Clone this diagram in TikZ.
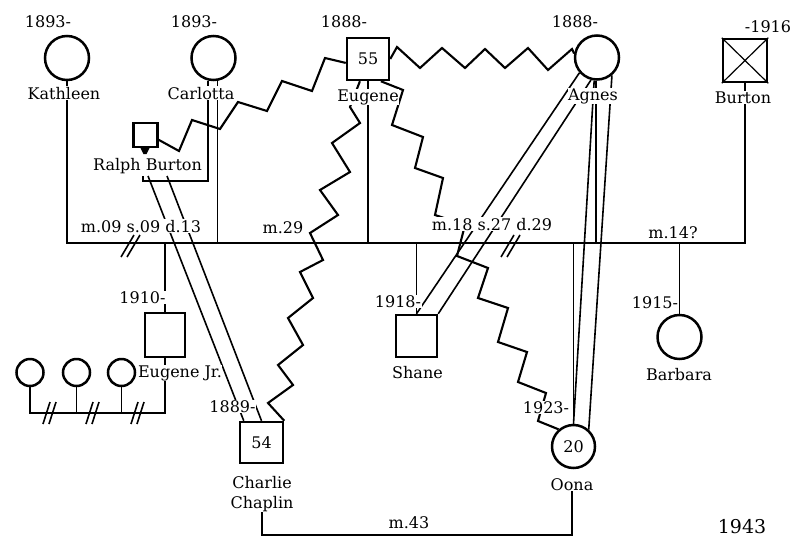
\documentclass[tikz,border=0pt]{standalone}
\usepackage{fontspec}
\setmainfont{DejaVu Serif}
\usetikzlibrary{calc}
\pgfdeclarelayer{bg}
\pgfsetlayers{bg,main}
\begin{document}
\begin{tikzpicture}[x=1pt,y=-1pt,
  fem/.style={circle,draw,fill=white,line width=2.5pt,minimum size=44pt,inner sep=0pt,font=\fontsize{16}{19}\selectfont},
  mal/.style={rectangle,draw,fill=white,line width=2.5pt,inner sep=0pt,font=\fontsize{16}{19}\selectfont},
  lbl/.style={font=\fontsize{16}{19}\selectfont,fill=white,inner sep=0.5pt,anchor=base},
  rel/.style={line width=1.6pt},
  zz/.style={line width=2.1pt,line join=miter},
  divmark/.pic={\draw[line width=1.6pt] (-10,11)--(3,-11) (-4,11)--(9,-11);},
  smalldiv/.pic={\draw[line width=1.6pt] (-7,11)--(0,-11) (-1,11)--(6,-11);}
]
\useasboundingbox (0,0) rectangle (791,538);
% persons
\node[fem] (kath) at (67,58) {};
\node[fem] (carl) at (213.5,58) {};
\node[mal,minimum width=42pt,minimum height=42pt] (eug) at (368,59) {55};
\node[fem] (agn) at (597,57.5) {};
\node[mal,minimum width=44pt,minimum height=43pt] (burt) at (745,60.5) {};
\draw[line width=1.2pt] (burt.north west) -- (burt.south east) (burt.north east) -- (burt.south west);
\node[mal,minimum size=24pt,line width=2.2pt] (ralph) at (145.5,135) {};
\fill (ralph.south) ++(-5,0) -- ++(9,0) -- ++(-3,6) -- ++(-3,0) -- cycle;
\node[mal,minimum width=40pt,minimum height=44pt] (eugjr) at (165,335) {};
\node[mal,minimum width=41pt,minimum height=42pt] (shane) at (416.5,336) {};
\node[fem] (barb) at (679.5,337) {};
\node[mal,minimum width=43pt,minimum height=41pt] (charlie) at (261.5,442.5) {54};
\node[fem,minimum size=43pt] (oona) at (573.5,446.5) {20};
\node[fem,minimum size=27pt] (g1) at (30,372.5) {};
\node[fem,minimum size=27pt] (g2) at (76.5,372.5) {};
\node[fem,minimum size=27pt] (g3) at (121.5,372.5) {};
% labels
\node[lbl] (kathy) at (48,27) {1893-};
\node[lbl] (kathl) at (64,99) {Kathleen};
\node[lbl] (carly) at (194,27) {1893-};
\node[lbl] (carll) at (201,99) {Carlotta};
\node[lbl] (eugy) at (344,27) {1888-};
\node[lbl] (eugl) at (368,101) {Eugene};
\node[lbl] (agny) at (575,27) {1888-};
\node[lbl] (agnl) at (593,100) {Agnes};
\node[lbl] (burty) at (768,32) {-1916};
\node[lbl] (burtl) at (743,103) {Burton};
\node[lbl] (ralphl) at (147.5,170) {Ralph Burton};
\node[lbl] (m1) at (141,232) {m.09 s.09 d.13};
\node[lbl] (m2) at (283,233) {m.29};
\node[lbl] (m3) at (492,230) {m.18 s.27 d.29};
\node[lbl] (m4) at (673,238) {m.14?};
\node[lbl] (ejy) at (142.5,303) {1910-};
\node[lbl] (ejl) at (180,377) {Eugene Jr.};
\node[lbl] (shy) at (398,307) {1918-};
\node[lbl] (shl) at (417.5,378) {Shane};
\node[lbl] (bby) at (655,308) {1915-};
\node[lbl] (bbl) at (679,380) {Barbara};
\node[lbl] (chy) at (232.5,412) {1889-};
\node[lbl] (chl1) at (262,488) {Charlie};
\node[lbl] (chl2) at (262,508) {Chaplin};
\node[lbl] (ooy) at (546,413) {1923-};
\node[lbl] (oonl) at (572,490) {Oona};
\node[lbl] (m5) at (409,528) {m.43};
\node[lbl,font=\fontsize{19}{22}\selectfont] (yr) at (742,533) {1943};
% divorce marks
\pic at (131,246) {divmark};
\pic at (511,246) {divmark};
\pic at (50,413) {smalldiv};
\pic at (93,413) {smalldiv};
\pic at (138,413) {smalldiv};
\begin{pgfonlayer}{bg}
\coordinate (mainy) at (0,243);
\coordinate (gy) at (0,413);
\coordinate (my) at (0,535);
\coordinate (cy) at (0,181);
\coordinate (c1) at (carl.-103);
\coordinate (c2) at (carl.-80);
\coordinate (ad) at (agn.-93);
\coordinate (rbA) at (143,176);
\coordinate (rbB) at (148,176);
\coordinate (rbC) at (167,176);
% marriage line and drops
\draw[rel] (kath.south) |- (mainy -| burt.south) -- (burt.south);
\draw[rel] (c2) -- (c2 |- mainy);
\draw[rel] (eug.south) -- (eug.south |- mainy);
\draw[rel] (ad) -- (ad |- mainy);
\draw[rel] (eugjr.north) -- (eugjr.north |- mainy);
\draw[rel] (shane.north) -- (shane.north |- mainy);
\draw[rel] (barb.north) -- (barb.north |- mainy);
\draw[rel] (oona.north) -- (oona.north |- mainy);
% grandchildren
\draw[rel] (g1.south) |- (gy -| eugjr.south) -- (eugjr.south);
\draw[rel] (g2.south) -- (g2.south |- gy);
\draw[rel] (g3.south) -- (g3.south |- gy);
% Carlotta - Ralph Burton - Chaplin
\draw[rel] (c1) |- (cy -| rbA) -- (rbA);
\draw[rel] (rbB) -- ($(charlie.north west)+(5,0)$);
\draw[rel] (rbC) -- (charlie.north);
% Agnes lines
\draw[rel] (agn.-97) -- (oona.north);
\draw[rel] (agn.-50) -- (oona.48);
\draw[rel] (agn.-139) -- (shane.north);
\draw[rel] (agn.-105) -- (shane.north east);
% m.43
\draw[rel] (chl2.south) |- (my -| oonl.south) -- (oonl.south);
% zigzags
\draw[zz] (ralph.-20) -- (179,151) -- (192,120) -- (220,129) -- (238,102) -- (267,111) -- (282,81) -- (312,91) -- (325,58) -- (eug.-170);
\draw[zz] (eug.east) -- (397,47) -- (420,68) -- (442,48) -- (465,68) -- (485,49) -- (505,68) -- (528,48) -- (548,70) -- (572,49) -- (agn.170);
\draw[zz] (eug.-110) -- (350,107) -- (360,123) -- (332,143) -- (350,172) -- (320,190) -- (338,215) -- (310,233) -- (323,260) -- (300,272) -- (313,298) -- (288,318) -- (303,345) -- (278,365) -- (293,385) -- (268,403) -- (charlie.north east);
\draw[zz] (eug.-60) -- (403,90) -- (392,125) -- (423,137) -- (415,168) -- (443,178) -- (435,215) -- (465,225) -- (457,256) -- (488,268) -- (478,298) -- (508,308) -- (498,342) -- (527,352) -- (518,382) -- (546,393) -- (538,421) -- (oona.131);
\end{pgfonlayer}
\end{tikzpicture}
\end{document}
